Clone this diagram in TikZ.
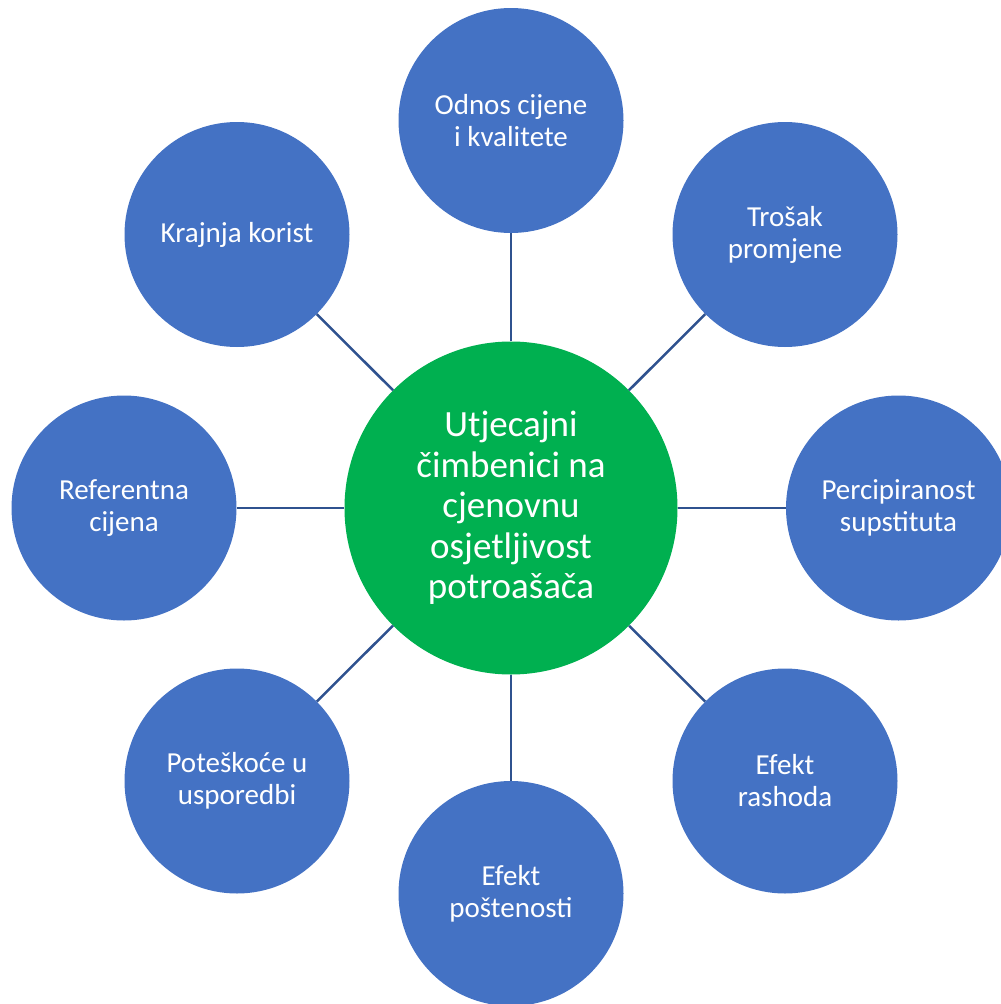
\documentclass[tikz,border=0pt]{standalone}
\usepackage{fontspec}
\setmainfont{Carlito}
\definecolor{ablue}{HTML}{4472C4}
\definecolor{agreen}{HTML}{00B050}
\definecolor{aline}{HTML}{2F528F}
\begin{document}
\begin{tikzpicture}[x=1pt,y=-1pt,
  outer/.style={circle,fill=ablue,minimum size=225pt,inner sep=0pt,text=white,align=center,
    font=\fontsize{29}{32}\selectfont},
  hub/.style={circle,fill=agreen,minimum size=333pt,inner sep=0pt,text=white,align=center,
    font=\fontsize{37}{40.5}\selectfont},
  link/.style={draw=aline,line width=2.5pt}]
\useasboundingbox (0,0) rectangle (1001,1004);
\clip (0,0) rectangle (1001,1004);
\node[hub] (c) at (511,508) {Utjecajni\\čimbenici na\\cjenovnu\\osjetljivost\\potroašača};
\node[outer] (n) at (511,120.5) {Odnos cijene\\i kvalitete};
\node[outer] (ne) at (785,234.5) {Trošak\\promjene};
\node[outer] (e) at (898.5,508) {Percipiranost\\supstituta};
\node[outer] (se) at (785,781) {Efekt\\rashoda};
\node[outer] (s) at (511,893.5) {Efekt\\poštenosti};
\node[outer] (sw) at (237,781) {Poteškoće u\\usporedbi};
\node[outer] (w) at (124,508) {Referentna\\cijena};
\node[outer] (nw) at (237,234.5) {Krajnja korist};
\foreach \t in {n,ne,e,se,s,sw,w,nw} \draw[link] (c) -- (\t);
\end{tikzpicture}
\end{document}
